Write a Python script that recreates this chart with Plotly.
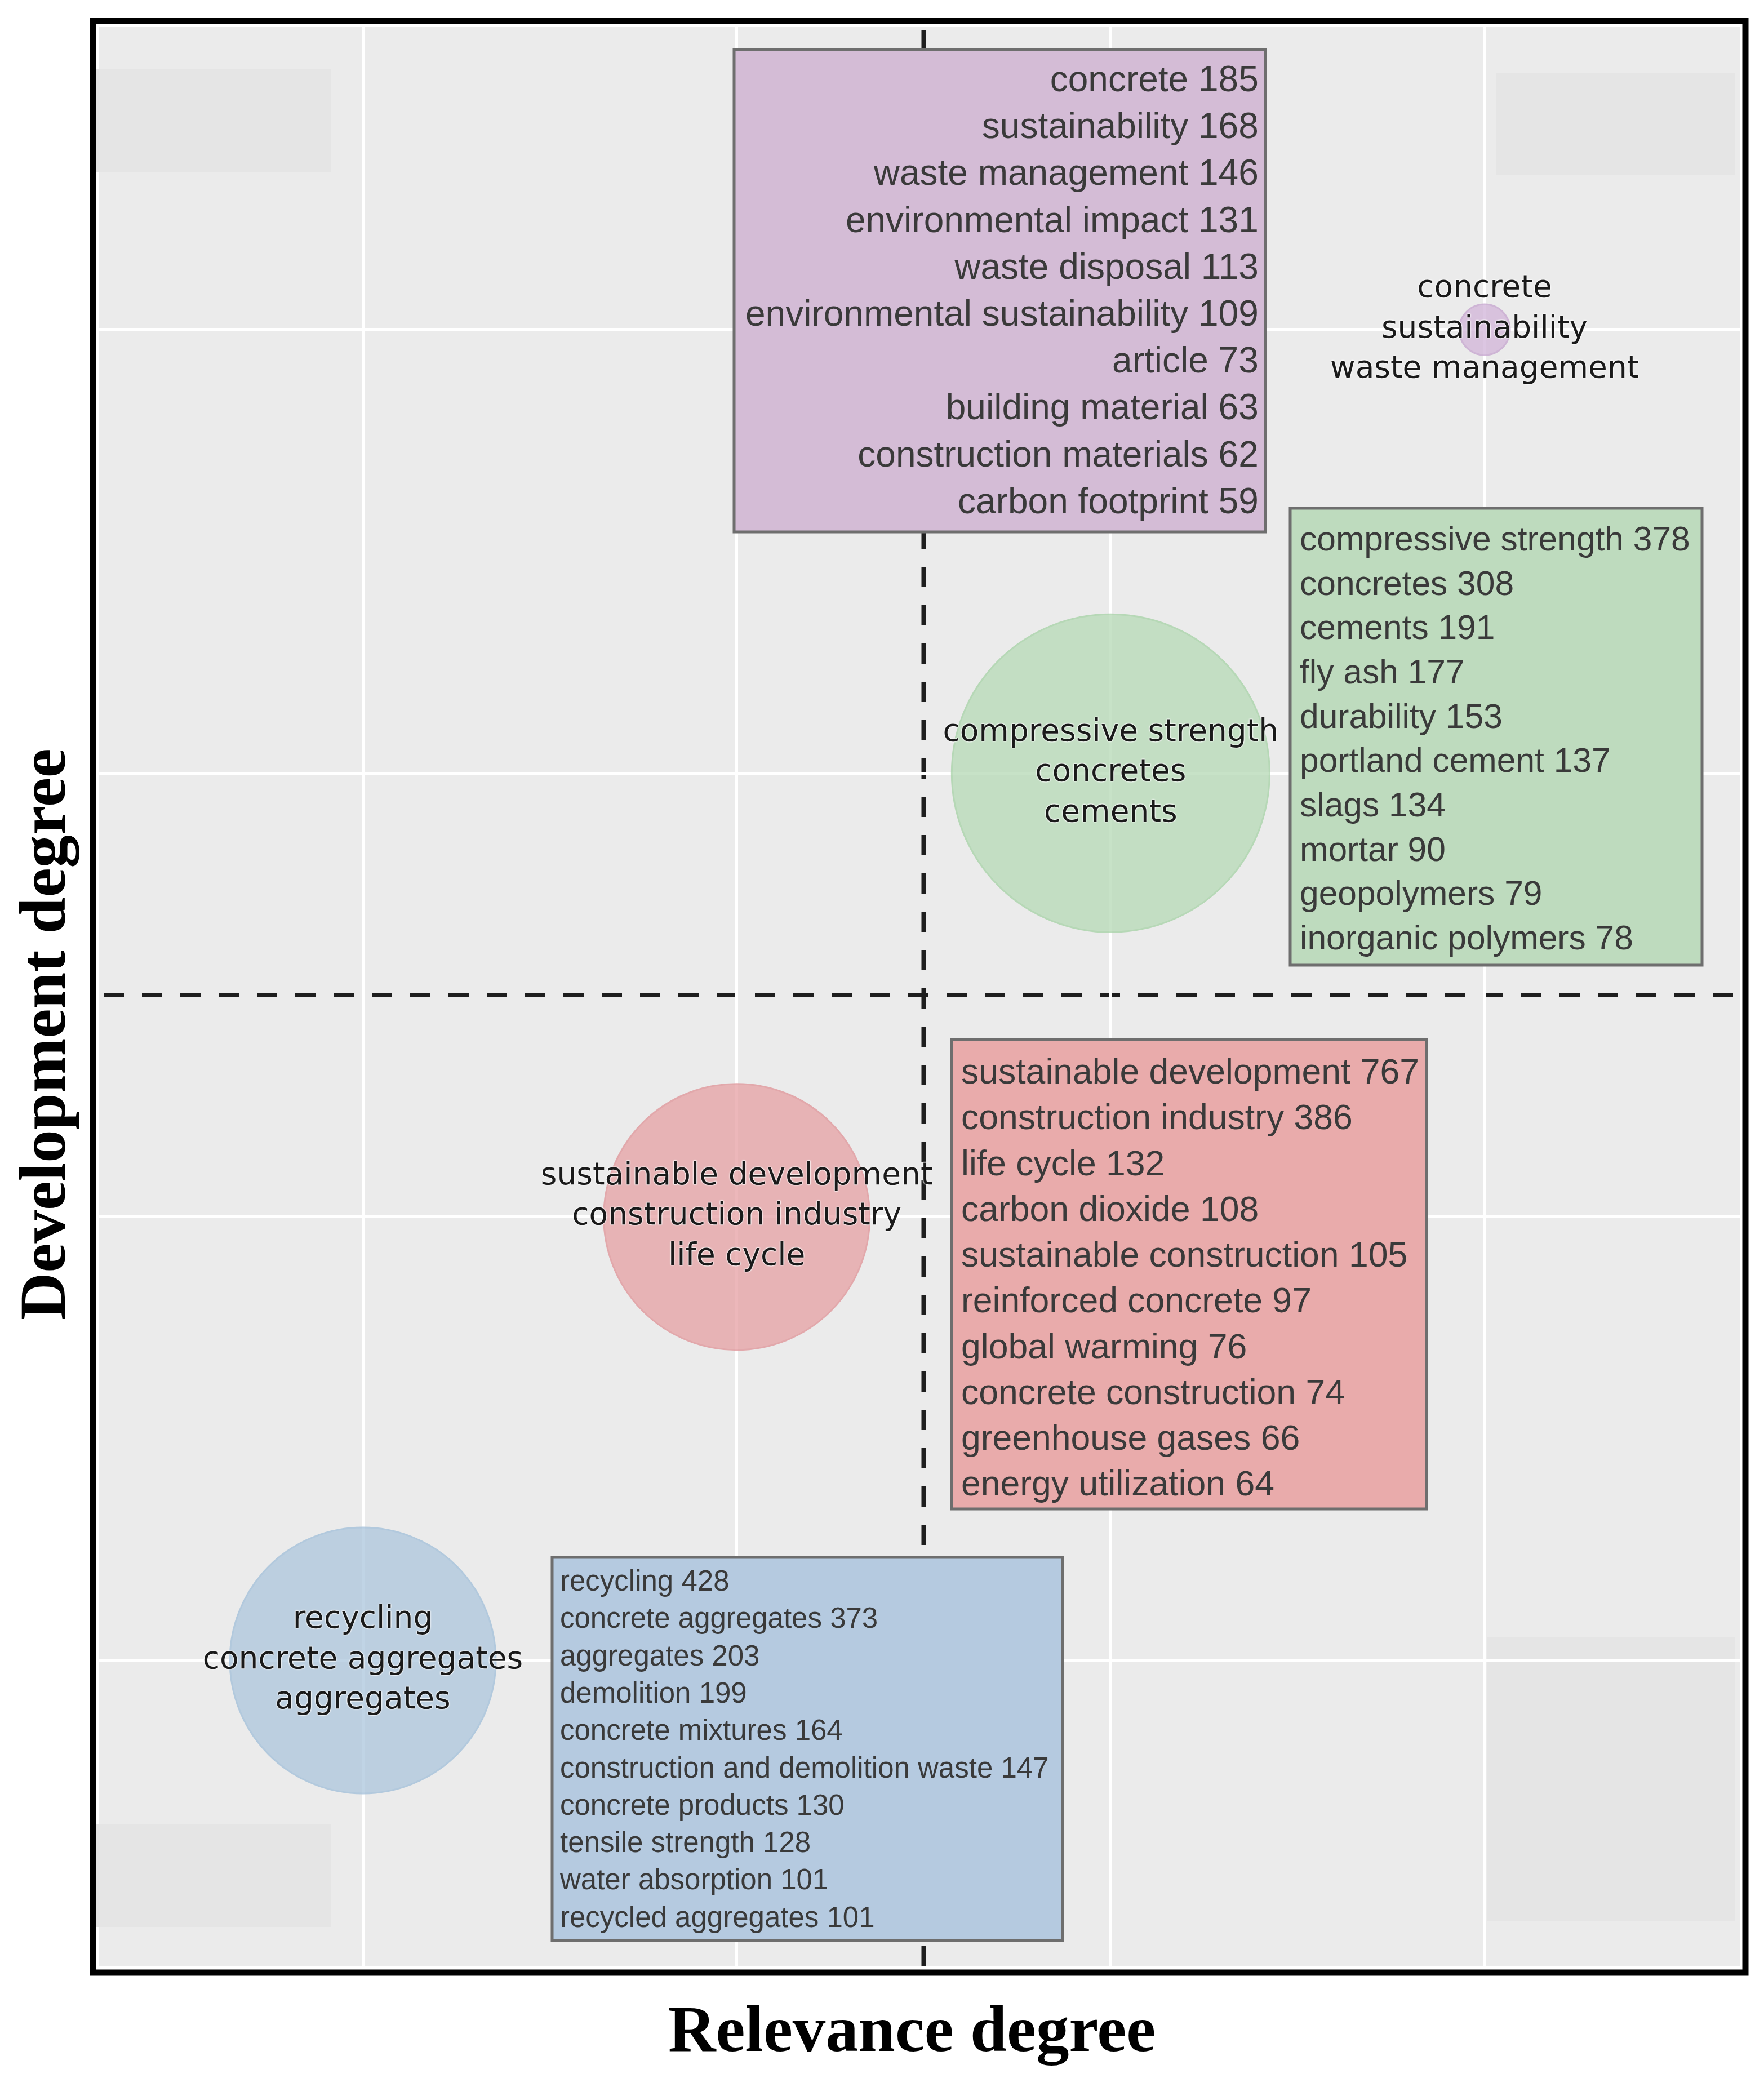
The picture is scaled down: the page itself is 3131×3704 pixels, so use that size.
import plotly.graph_objects as go

W, H = 3131, 3704

# ---------------- data ----------------
cluster_ids = ["recycling", "sustainable development", "compressive strength", "concrete"]
relevance_degree = [1.0, 2.0, 3.0, 4.0]      # x (centrality)
development_degree = [1.0, 2.0, 3.0, 4.0]    # y (density)
relevance_threshold = 2.5
development_threshold = 2.5

blue_words = ["recycling", "concrete aggregates", "aggregates", "demolition", "concrete mixtures",
              "construction and demolition waste", "concrete products", "tensile strength",
              "water absorption", "recycled aggregates"]
blue_counts = [428, 373, 203, 199, 164, 147, 130, 128, 101, 101]

red_words = ["sustainable development", "construction industry", "life cycle", "carbon dioxide",
             "sustainable construction", "reinforced concrete", "global warming",
             "concrete construction", "greenhouse gases", "energy utilization"]
red_counts = [767, 386, 132, 108, 105, 97, 76, 74, 66, 64]

green_words = ["compressive strength", "concretes", "cements", "fly ash", "durability",
               "portland cement", "slags", "mortar", "geopolymers", "inorganic polymers"]
green_counts = [378, 308, 191, 177, 153, 137, 134, 90, 79, 78]

purple_words = ["concrete", "sustainability", "waste management", "environmental impact",
                "waste disposal", "environmental sustainability", "article", "building material",
                "construction materials", "carbon footprint"]
purple_counts = [185, 168, 146, 131, 113, 109, 73, 63, 62, 59]

cluster_words = [blue_words, red_words, green_words, purple_words]
cluster_counts = [blue_counts, red_counts, green_counts, purple_counts]

# ---------------- styles ----------------
bubble_px = [472, 472, 564, 90]
bubble_fill = ["#AFC8DE", "#E7A4A7", "#B8DBB8", "#D3B7DA"]
bubble_edge = ["#A3C0DA", "#E0969A", "#A8D3A8", "#C7A6D0"]
box_fill = ["#B5CAE0", "#E9ABAB", "#BEDBBE", "#D4BCD6"]
# rect px (x0, y0, x1, y1), text anchor px x, text mid px y, align, font size
box_layout = [
    dict(rect=(980, 2764, 1886, 3444), tx=991, ty=3104, align="left", size=51),
    dict(rect=(1689, 1845, 2532, 2678), tx=1704, ty=2266, align="left", size=62.5),
    dict(rect=(2290, 902, 3021, 1713), tx=2305, ty=1310, align="left", size=60.5),
    dict(rect=(1303, 88, 2246, 944), tx=2236, ty=514, align="right", size=64),
]
ghost_rects = [(170, 122, 588, 306), (2655, 129, 3079, 311),
               (170, 3237, 588, 3420), (2640, 2905, 3080, 3410)]

# plot area in px
PX0, PX1, PY0, PY1 = 176, 3088, 48, 3490
# gridline px positions for values 1 and 4
GX1, GX4 = 644, 2635
GY1, GY4 = 2947, 585
sx = (GX4 - GX1) / 3.0
sy = (GY1 - GY4) / 3.0
x_range = [1 + (PX0 - GX1) / sx, 1 + (PX1 - GX1) / sx]
y_range = [1 + (GY1 - PY1) / sy, 1 + (GY1 - PY0) / sy]


def px(x):
    return x / W


def py(y):
    return 1 - y / H


fig = go.Figure()

labels = ["<br>".join(w[:3]) for w in cluster_words]
fig.add_trace(go.Scatter(
    x=relevance_degree, y=development_degree, mode="markers+text",
    text=labels, textposition="middle center",
    marker=dict(size=bubble_px, color=bubble_fill, opacity=0.78,
                line=dict(color=bubble_edge, width=3)),
    textfont=dict(family="DejaVu Sans", size=55, color="#1a1a1a",
                  shadow="0px 0px 3px #ffffff, 0px 0px 3px #ffffff, 0px 0px 2px #ffffff"),
    hoverinfo="skip", showlegend=False, cliponaxis=False,
))

shapes = []
for (x0, y0, x1, y1) in ghost_rects:
    shapes.append(dict(type="rect", xref="paper", yref="paper",
                       x0=px(x0), x1=px(x1), y0=py(y1), y1=py(y0),
                       fillcolor="#E5E5E5", line=dict(width=0), layer="between"))

# threshold dashed lines
shapes.append(dict(type="line", xref="x", yref="paper",
                   x0=relevance_threshold, x1=relevance_threshold, y0=py(PY1), y1=py(PY0),
                   line=dict(color="#1e1e1e", width=8, dash="36px,32px"), layer="between"))
shapes.append(dict(type="line", xref="paper", yref="y",
                   x0=px(184), x1=px(3078), y0=development_threshold, y1=development_threshold,
                   line=dict(color="#1e1e1e", width=8, dash="36px,32px"), layer="between"))

annotations = []
for i, bl in enumerate(box_layout):
    x0, y0, x1, y1 = bl["rect"]
    shapes.append(dict(type="rect", xref="paper", yref="paper",
                       x0=px(x0), x1=px(x1), y0=py(y1), y1=py(y0),
                       fillcolor=box_fill[i], line=dict(color="#6E6E6E", width=5), layer="above"))
    lines = [f"{w} {c}" for w, c in zip(cluster_words[i], cluster_counts[i])]
    annotations.append(dict(
        xref="paper", yref="paper", x=px(bl["tx"]), y=py(bl["ty"]),
        xanchor=bl["align"], yanchor="middle", align=bl["align"],
        text="<br>".join(lines), showarrow=False,
        font=dict(family="Liberation Sans, Arial", size=bl["size"], color="#3a3a3a"),
    ))

# frame
shapes.append(dict(type="rect", xref="paper", yref="paper",
                   x0=px(164.5), x1=px(3098), y0=py(3501), y1=py(37.5),
                   line=dict(color="#000000", width=11), fillcolor="rgba(0,0,0,0)", layer="above"))

annotations.append(dict(xref="paper", yref="paper", x=px(1618), y=py(3601),
                        xanchor="center", yanchor="middle", showarrow=False,
                        text="Relevance degree",
                        font=dict(family="Liberation Serif, Times New Roman", size=117,
                                  color="#000000", weight="bold")))
annotations.append(dict(xref="paper", yref="paper", x=px(76), y=py(1836),
                        xanchor="center", yanchor="middle", showarrow=False, textangle=-90,
                        text="Development degree",
                        font=dict(family="Liberation Serif, Times New Roman", size=117,
                                  color="#000000", weight="bold")))

fig.update_layout(
    width=W, height=H, margin=dict(l=0, r=0, t=0, b=0),
    paper_bgcolor="#FFFFFF", plot_bgcolor="#EBEBEB",
    xaxis=dict(domain=[px(PX0), px(PX1)], range=x_range, tickvals=[1, 2, 3, 4],
               showticklabels=False, ticks="", showgrid=True, gridcolor="#FFFFFF",
               gridwidth=5, zeroline=False, showline=False, fixedrange=True),
    yaxis=dict(domain=[py(PY1), py(PY0)], range=y_range, tickvals=[1, 2, 3, 4],
               showticklabels=False, ticks="", showgrid=True, gridcolor="#FFFFFF",
               gridwidth=5, zeroline=False, showline=False, fixedrange=True),
    shapes=shapes, annotations=annotations, showlegend=False,
)

fig.write_html("out.html", config={"displayModeBar": False},
               post_script="document.body.style.margin='0';document.body.style.overflow='hidden';")
